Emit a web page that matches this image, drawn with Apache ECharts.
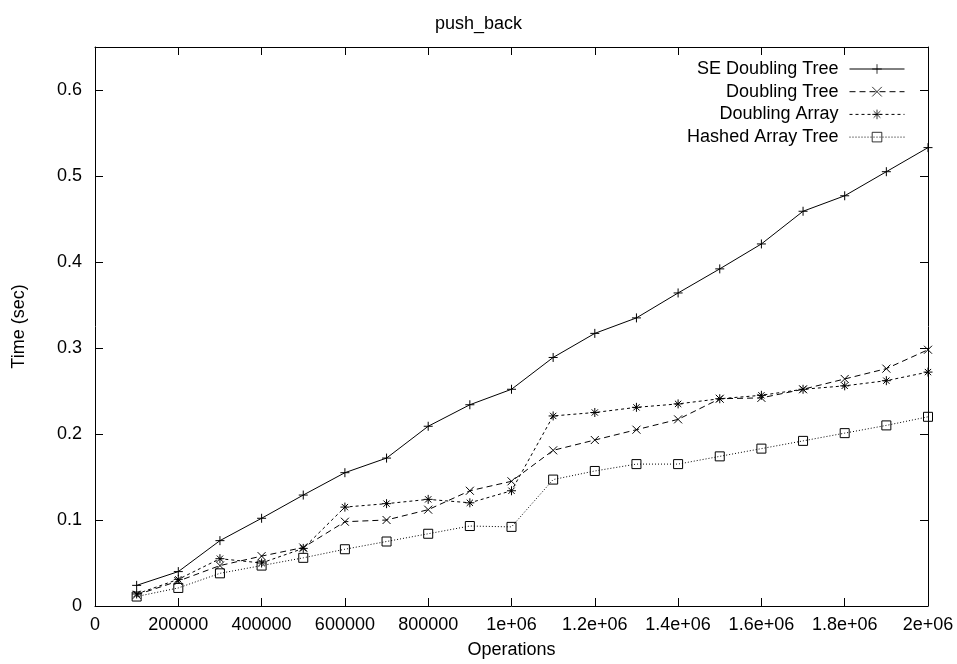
<!DOCTYPE html>
<html lang="en">
<head>
    <meta charset="UTF-8">
    <script src="https://cdn.jsdelivr.net/npm/echarts@6/dist/echarts.min.js"></script>
    <title>push_back</title>
</head>
<body style="margin:0">
<div id="main" style="width: 957px;height: 664px"></div>
<script type="text/javascript">
    // operations (x values)
    var operations = [100000, 200000, 300000, 400000, 500000, 600000, 700000, 800000, 900000, 1000000,
        1100000, 1200000, 1300000, 1400000, 1500000, 1600000, 1700000, 1800000, 1900000, 2000000];

    var seDoublingTree = [0.024, 0.040, 0.076, 0.102, 0.129, 0.155, 0.172, 0.209, 0.234, 0.252,
        0.289, 0.317, 0.335, 0.364, 0.392, 0.421, 0.459, 0.477, 0.505, 0.533];
    var doublingTree = [0.013, 0.029, 0.047, 0.058, 0.068, 0.098, 0.100, 0.112, 0.134, 0.145,
        0.181, 0.193, 0.205, 0.217, 0.241, 0.242, 0.252, 0.264, 0.276, 0.298];
    var doublingArray = [0.014, 0.031, 0.055, 0.050, 0.067, 0.115, 0.119, 0.124, 0.120, 0.134,
        0.221, 0.225, 0.231, 0.235, 0.241, 0.245, 0.252, 0.256, 0.262, 0.272];
    var hashedArrayTree = [0.011, 0.021, 0.038, 0.047, 0.056, 0.066, 0.075, 0.084, 0.093, 0.092,
        0.147, 0.157, 0.165, 0.165, 0.174, 0.183, 0.192, 0.201, 0.210, 0.220];

    var xTickLabels = ['0', '200000', '400000', '600000', '800000', '1e+06',
        '1.2e+06', '1.4e+06', '1.6e+06', '1.8e+06', '2e+06'];
    var yTickLabels = ['0', '0.1', '0.2', '0.3', '0.4', '0.5', '0.6'];

    var seriesNames = ['SE Doubling Tree', 'Doubling Tree', 'Doubling Array', 'Hashed Array Tree'];

    function zip(ys) {
        return operations.map(function (x, i) { return [x, ys[i]]; });
    }

    var FONT = 'Liberation Sans';
    var FS = 18;
    var symPlus = 'path://M5,0L5,10M0,5L10,5';
    var symCross = 'path://M0,0L10,10M0,10L10,0';
    var symStar = 'path://M5,0L5,10M0,5L10,5M1.5,1.5L8.5,8.5M1.5,8.5L8.5,1.5';
    var symBox = 'path://M0,0L10,0L10,10L0,10Z';

    function mkSeries(name, data, sym, size, dash) {
        return {
            name: name,
            type: 'line',
            data: zip(data),
            symbol: sym,
            symbolSize: size,
            showAllSymbol: true,
            animation: false,
            lineStyle: {color: '#000', width: 1, type: dash},
            itemStyle: {color: 'rgba(0,0,0,0)', borderColor: '#000', borderWidth: 1},
            emphasis: {disabled: true}
        };
    }

    function mkLegend(idx) {
        return {
            data: [seriesNames[idx]],
            right: 52,
            top: 60 + idx * 22.7,
            align: 'right',
            itemWidth: 55,
            itemHeight: 12,
            padding: 0,
            lineStyle: {width: 1},
            itemStyle: {borderWidth: 0.8},
            textStyle: {fontFamily: FONT, fontSize: FS, color: '#000', padding: [0, 6, 0, 0]},
            selectedMode: false
        };
    }

    var tickStyle = {show: true, inside: true, length: 8, lineStyle: {color: '#000', width: 1}};
    var lineStyleAx = {show: true, onZero: false, lineStyle: {color: '#000', width: 1}};

    var myChart = echarts.init(document.getElementById('main'));

    myChart.setOption({
        animation: false,
        title: {
            text: 'push_back',
            left: 'center',
            top: 10,
            textStyle: {fontFamily: FONT, fontSize: FS, fontWeight: 'normal', color: '#000'}
        },
        legend: [mkLegend(0), mkLegend(1), mkLegend(2), mkLegend(3)],
        grid: {left: 95, right: 29, top: 47, bottom: 57},
        xAxis: [{
            type: 'value',
            min: 0,
            max: 2000000,
            interval: 200000,
            name: 'Operations',
            nameLocation: 'middle',
            nameGap: 35,
            nameTextStyle: {fontFamily: FONT, fontSize: FS, color: '#000'},
            axisLine: lineStyleAx,
            axisTick: tickStyle,
            axisLabel: {
                fontFamily: FONT, fontSize: FS, color: '#000', margin: 10,
                formatter: function (v) { return xTickLabels[Math.round(v / 200000)]; }
            },
            splitLine: {show: false}
        }, {
            type: 'value',
            position: 'top',
            min: 0,
            max: 2000000,
            interval: 200000,
            axisLine: lineStyleAx,
            axisTick: tickStyle,
            axisLabel: {show: false},
            splitLine: {show: false}
        }],
        yAxis: [{
            type: 'value',
            min: 0,
            max: 0.65,
            interval: 0.1,
            name: 'Time (sec)',
            nameLocation: 'middle',
            nameGap: 67,
            nameTextStyle: {fontFamily: FONT, fontSize: FS, color: '#000'},
            axisLine: lineStyleAx,
            axisTick: tickStyle,
            axisLabel: {
                fontFamily: FONT, fontSize: FS, color: '#000', margin: 13,
                showMaxLabel: false,
                formatter: function (v) { return yTickLabels[Math.round(v / 0.1)]; }
            },
            splitLine: {show: false}
        }, {
            type: 'value',
            position: 'right',
            min: 0,
            max: 0.65,
            interval: 0.1,
            axisLine: lineStyleAx,
            axisTick: tickStyle,
            axisLabel: {show: false},
            splitLine: {show: false}
        }],
        series: [
            mkSeries(seriesNames[0], seDoublingTree, symPlus, 9, 'solid'),
            mkSeries(seriesNames[1], doublingTree, symCross, 8, [6, 4]),
            mkSeries(seriesNames[2], doublingArray, symStar, 9, [3, 3]),
            mkSeries(seriesNames[3], hashedArrayTree, symBox, 9, [1, 2])
        ]
    });
</script>
</body>
</html>
